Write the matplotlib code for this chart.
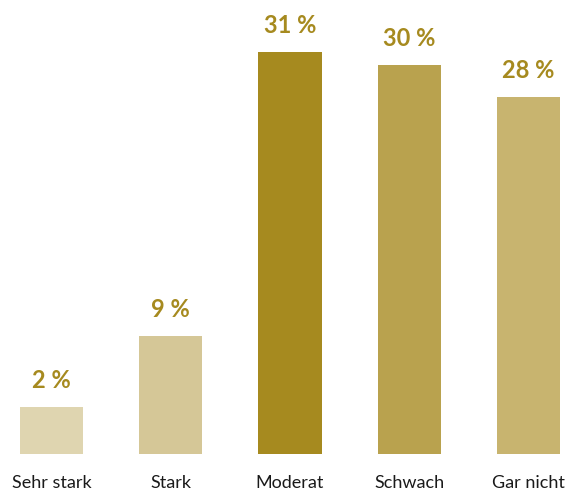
import matplotlib
matplotlib.use("Agg")
import matplotlib.pyplot as plt

categories = ["Sehr stark", "Stark", "Moderat", "Schwach", "Gar nicht"]
bar_values = [3.6, 9.1, 31.0, 30.0, 27.5]
value_labels = ["2 %", "9 %", "31 %", "30 %", "28 %"]
colors = ["#DFD5B0", "#D5C797", "#A68A1F", "#B9A24E", "#C8B46F"]
label_color = "#A68A1F"

plt.rcParams['font.family'] = ['Lato', 'DejaVu Sans']

fig = plt.figure(figsize=(5.68, 4.90), dpi=100)
ax = fig.add_axes([20/568, 36/490, 540/568, 441/490])
x = list(range(len(categories)))
bars = ax.bar(x, bar_values, width=0.53, color=colors)
for xi, v, lab in zip(x, bar_values, value_labels):
    ax.annotate(lab, (xi, v), xytext=(0, 15), textcoords='offset pixels',
                ha='center', va='bottom', fontsize=17, fontweight='bold',
                color=label_color)
ax.set_xlim(-0.265, 4.265)
ax.set_ylim(0, 34)
ax.set_xticks(x)
ax.set_xticklabels(categories, fontsize=13, color="#1a1a1a")
ax.tick_params(axis='x', length=0, pad=15)
ax.set_yticks([])
for s in ax.spines.values():
    s.set_visible(False)
fig.savefig("out.png", dpi=100, facecolor="white")
